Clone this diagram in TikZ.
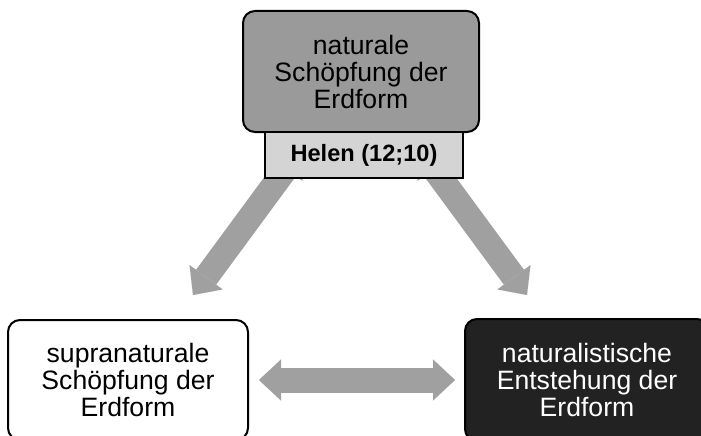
\documentclass[tikz,border=0pt]{standalone}
\usepackage{fontspec}
\setmainfont{Liberation Sans}
\usetikzlibrary{arrows.meta}
\definecolor{arrowgray}{HTML}{A0A0A0}
\definecolor{topgray}{HTML}{9A9A9A}
\definecolor{helengray}{HTML}{D4D4D4}
\definecolor{darkbox}{HTML}{222222}
\tikzset{
  bigtext/.style={align=center, font=\fontsize{26.6}{27}\selectfont},
  roundbox/.style={draw=black, line width=2pt, rounded corners=12pt, bigtext, inner sep=0pt},
  helenbox/.style={draw=black, line width=2pt, fill=helengray, inner sep=0pt,
    font=\fontsize{23.6}{26}\selectfont\bfseries},
  bigarrow/.style={draw=arrowgray, line width=25pt,
    {Triangle[length=22pt,width=41pt,line width=0.01pt]}-{Triangle[length=22pt,width=41pt,line width=0.01pt]}}
}
\begin{document}
\begin{tikzpicture}[x=1pt,y=-1pt]
\useasboundingbox (0,0) rectangle (701,436);
\clip (0,0) rectangle (701,436);
% diagonal connectors (behind boxes)
\coordinate (la) at (299,151);
\coordinate (lb) at (193,295);
\coordinate (ra) at (421,151);
\coordinate (rb) at (527,295);
\draw[bigarrow] (la) -- (lb);
\draw[bigarrow] (ra) -- (rb);
% boxes
\node[roundbox, fill=topgray, minimum width=236pt, minimum height=121pt] (top) at (361,71.5)
  {naturale\\Schöpfung der\\Erdform};
\node[helenbox, minimum width=198pt, minimum height=46pt] (helen) at (364,155) {Helen (12;10)};
\node[roundbox, fill=white, minimum width=240pt, minimum height=120pt] (left) at (128,380)
  {supranaturale\\Schöpfung der\\Erdform};
\node[roundbox, fill=darkbox, text=white, minimum width=244pt, minimum height=122pt] (right) at (587,380)
  {naturalistische\\Entstehung der\\Erdform};
% horizontal connector
\draw[bigarrow, shorten <=10pt, shorten >=9pt] (left.east) -- (right.west);
\end{tikzpicture}
\end{document}
